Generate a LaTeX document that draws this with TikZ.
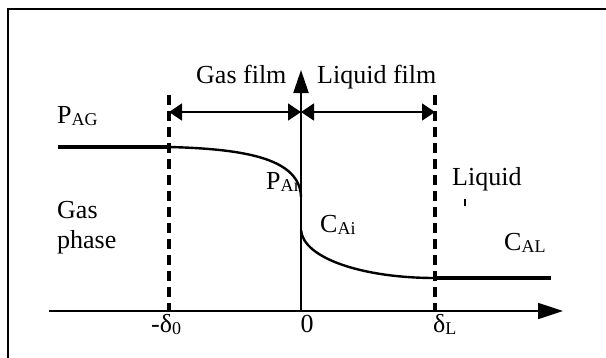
\documentclass[tikz,border=0pt]{standalone}
\usepackage{fontspec}
\setmainfont{Liberation Serif}
\usetikzlibrary{arrows.meta}
\newcommand{\sbs}[1]{\raisebox{-2.5pt}{\fontsize{18}{20}\selectfont #1}}
\begin{document}
\begin{tikzpicture}[x=1pt,y=-1pt,
  lbl/.style={inner sep=0pt,font=\fontsize{26}{30}\selectfont},
  dashv/.style={line width=3.2pt,dash pattern=on 10pt off 6pt},
  dim/.style={line width=1.5pt,{Triangle[length=13pt,width=17pt]}-{Triangle[length=13pt,width=17pt]}},
  thickline/.style={line width=3.5pt},
  curve/.style={line width=2.4pt}]
\useasboundingbox (0,0) rectangle (606,357);
\begin{scope}
\clip (0,0) rectangle (606,357);
\draw[line width=2.8pt] (8,9) rectangle (620,370);
\end{scope}
% coordinates
\coordinate (xs) at (49,311);
\coordinate (xe) at (563,311);
\coordinate (o) at (301,311);
\coordinate (yt) at (301,70);
\coordinate (dlt) at (169,95);
\coordinate (dlb) at (169,311);
\coordinate (drt) at (435,95);
\coordinate (drb) at (435,311);
\coordinate (a1) at (169,112);
\coordinate (a2) at (301,112);
\coordinate (a3) at (435,112);
\coordinate (g0) at (58,147);
\coordinate (g1) at (169,147);
\coordinate (gi) at (301,197);
\coordinate (li) at (301,230);
\coordinate (l1) at (435,278);
\coordinate (l2) at (551,278);
% axes
\draw[line width=1.7pt,-{Triangle[length=25pt,width=16pt]}] (xs) -- (xe);
\draw[line width=2.3pt,-{Triangle[length=23pt,width=15pt]}] (o) -- (yt);
% dashed boundaries
\draw[dashv] (dlt) -- (dlb);
\draw[dashv] (drt) -- (drb);
% film arrows
\draw[dim] (a1) -- (a2);
\draw[dim] (a2) -- (a3);
% profile
\draw[thickline] (g0) -- (g1);
\draw[curve] (g1) .. controls (250,149) and (300,160) .. (gi);
\draw[curve] (gi) -- (li);
\draw[curve] (li) .. controls (303,258) and (362,278) .. (l1);
\draw[thickline] (l1) -- (l2);
% stray mark
\draw[line width=1.2pt] (465,199) -- (465,206);
% labels
\node[lbl,anchor=base west] (gf) at (196,83) {Gas film};
\node[lbl,anchor=base west] (lf) at (317,83) {Liquid film};
\node[lbl,anchor=base west] (pag) at (57,123) {P\sbs{AG}};
\node[lbl,anchor=base west] (pai) at (266,189) {P\sbs{Ai}};
\node[lbl,anchor=base west] (gas) at (57,218) {Gas};
\node[lbl,anchor=base west] (phase) at (57,248) {phase};
\node[lbl,anchor=base west] (cai) at (320,232) {C\sbs{Ai}};
\node[lbl,anchor=base west] (liq) at (452,185) {Liquid};
\node[lbl,anchor=base west] (cal) at (504,250) {C\sbs{AL}};
\node[lbl,anchor=base west] (d0) at (151,332) {-δ\sbs{0}};
\node[lbl,anchor=base] (zero) at (307,332) {0};
\node[lbl,anchor=base west] (dL) at (433,332) {δ\sbs{L}};
\end{tikzpicture}
\end{document}
